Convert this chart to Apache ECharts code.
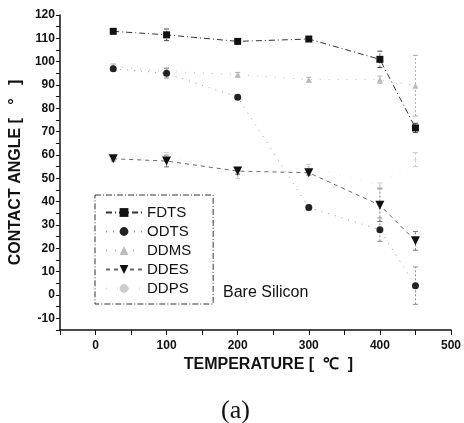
<!DOCTYPE html>
<html>
<head>
<meta charset="utf-8">
<script src="https://cdn.jsdelivr.net/npm/echarts@6/dist/echarts.min.js"></script>
<style>
  html, body { margin: 0; padding: 0; background: #fff; }
  #chart { width: 464px; height: 423px; }
</style>
</head>
<body>
<div id="chart"></div>
<script>
// temperatures (°C)
var temps = [25, 100, 200, 300, 400, 450];

// contact angle per coating
var fdts = [113, 111.5, 108.7, 109.7, 101, 71.6];
var odts = [97, 95, 84.8, 37.5, 28, 4];
var ddms = [98, 95.8, 94.4, 92.3, 92.3, 89.7];
var ddes = [58.4, 57.4, 53.1, 52.4, 38.5, 23.2];
var ddps = [59, 60, 51, 55, 47, 58];

// error bars (+/-)
var fdtsErr = [0.5, 2.5, 1, 1, 3.5, 2];
var odtsErr = [1, 2, 1, 1, 5, 8];
var ddmsErr = [1, 1.5, 1, 1, 1.5, 13];
var ddesErr = [1, 2.5, 1.5, 1, 7, 4];
var ddpsErr = [1, 1, 1, 1, 1, 3];

var xTicks = [0, 100, 200, 300, 400, 500];

function pairs(vals) {
	return temps.map(function(t, i) { return [t, vals[i]]; });
}

function errSeries(vals, errs, color) {
	return {
		type: 'custom',
		silent: true,
		z: 1,
		data: temps.map(function(t, i) { return [t, vals[i] - errs[i], vals[i] + errs[i]]; }),
		renderItem: function(params, api) {
			var lo = api.coord([api.value(0), api.value(1)]);
			var hi = api.coord([api.value(0), api.value(2)]);
			var style = { stroke: color, lineWidth: 1, lineDash: [2, 2] };
			return {
				type: 'group',
				children: [
					{ type: 'line', shape: { x1: lo[0], y1: lo[1], x2: hi[0], y2: hi[1] }, style: style },
					{ type: 'line', shape: { x1: lo[0] - 2.5, y1: lo[1], x2: lo[0] + 2.5, y2: lo[1] }, style: { stroke: color, lineWidth: 1 } },
					{ type: 'line', shape: { x1: hi[0] - 2.5, y1: hi[1], x2: hi[0] + 2.5, y2: hi[1] }, style: { stroke: color, lineWidth: 1 } }
				]
			};
		}
	};
}

var chart = echarts.init(document.getElementById('chart'));
var fontFam = '"Liberation Sans", Arial, sans-serif';

var option = {
	animation: false,
	backgroundColor: '#fff',
	grid: { left: 57, right: 13, top: 15, bottom: 93 },
	legend: {
		left: 95,
		top: 195,
		orient: 'vertical',
		width: 116,
		padding: [10, 22, 8, 10],
		itemGap: 4,
		itemWidth: 36,
		itemHeight: 11,
		borderColor: '#333',
		borderWidth: 1,
		borderType: [6, 2, 1, 2],
		textStyle: { fontFamily: fontFam, fontSize: 15, color: '#111', padding: [0, 0, 0, 0] },
		data: ['FDTS', 'ODTS', 'DDMS', 'DDES', 'DDPS']
	},
	xAxis: {
		type: 'value',
		min: -50,
		max: 500,
		interval: 50,
		name: 'TEMPERATURE [  ℃  ]',
		nameLocation: 'middle',
		nameGap: 27,
		nameTextStyle: { fontFamily: fontFam, fontSize: 16, fontWeight: 'bold', color: '#111', padding: [0, 0, 0, 26] },
		axisLine: { onZero: false, lineStyle: { color: '#111', width: 1.5 } },
		axisTick: { inside: false, length: 5, lineStyle: { color: '#111' } },
		axisLabel: {
			fontFamily: fontFam, fontSize: 12, fontWeight: 'bold', color: '#111', margin: 10,
			formatter: function(v) { return xTicks.indexOf(v) >= 0 ? String(v) : ''; }
		},
		splitLine: { show: false }
	},
	yAxis: {
		type: 'value',
		min: -15,
		max: 120,
		interval: 5,
		name: 'CONTACT ANGLE [   °   ]',
		nameLocation: 'middle',
		nameRotate: 90,
		nameGap: 34,
		nameTextStyle: { fontFamily: fontFam, fontSize: 16, fontWeight: 'bold', color: '#111' },
		axisLine: { onZero: false, lineStyle: { color: '#111', width: 1.5 } },
		axisTick: { inside: false, length: 4, lineStyle: { color: '#111' } },
		axisLabel: {
			fontFamily: fontFam, fontSize: 12, fontWeight: 'bold', color: '#111', margin: 5,
			formatter: function(v) { return v % 10 === 0 ? String(v) : ''; }
		},
		splitLine: { show: false }
	},
	series: [
		errSeries(fdts, fdtsErr, '#444'),
		errSeries(odts, odtsErr, '#888'),
		errSeries(ddms, ddmsErr, '#aaa'),
		errSeries(ddes, ddesErr, '#777'),
		errSeries(ddps, ddpsErr, '#ccc'),
		{
			name: 'FDTS', type: 'line', data: pairs(fdts), z: 5,
			symbol: 'rect', symbolSize: 7,
			itemStyle: { color: '#111' },
			lineStyle: { color: '#333', width: 1, type: [6, 3, 1, 3] }
		},
		{
			name: 'ODTS', type: 'line', data: pairs(odts), z: 4,
			symbol: 'circle', symbolSize: 7,
			itemStyle: { color: '#222' },
			lineStyle: { color: '#999', width: 1, type: [1, 6] }
		},
		{
			name: 'DDMS', type: 'line', data: pairs(ddms), z: 3,
			symbol: 'triangle', symbolSize: 6,
			itemStyle: { color: '#bbb' },
			lineStyle: { color: '#bbb', width: 1, type: [1, 8] }
		},
		{
			name: 'DDES', type: 'line', data: pairs(ddes), z: 4,
			symbol: 'triangle', symbolRotate: 180, symbolSize: 9,
			itemStyle: { color: '#111' },
			lineStyle: { color: '#666', width: 1, type: [4, 4] }
		},
		{
			name: 'DDPS', type: 'line', data: pairs(ddps), z: 2,
			symbol: 'circle', symbolSize: 2,
			itemStyle: { color: '#ccc' },
			lineStyle: { color: '#ddd', width: 1, type: [1, 10] }
		}
	],
	graphic: [
		{
			type: 'text', left: 223, top: 285,
			style: { text: 'Bare Silicon', fontFamily: fontFam, fontSize: 16, fill: '#111' }
		},
		{
			type: 'text', left: 221, top: 398,
			style: { text: '(a)', fontFamily: '"Liberation Serif", "DejaVu Serif", serif', fontSize: 26, fill: '#111' }
		}
	]
};

chart.setOption(option);
</script>
</body>
</html>
